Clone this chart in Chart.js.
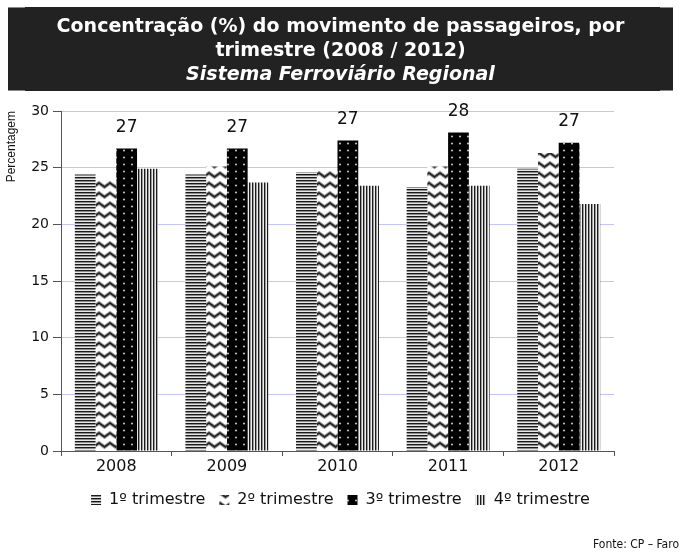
<!DOCTYPE html>
<html>
<head>
<meta charset="utf-8">
<script src="https://cdn.jsdelivr.net/npm/chart.js@4"></script>
<style>
  html, body { margin: 0; padding: 0; background: #fff; }
  #wrap { width: 681px; height: 555px; position: relative; }
</style>
</head>
<body>
<div id="wrap"><canvas id="passChart" width="681" height="555"></canvas></div>
<script>
// Data
const years = ['2008', '2009', '2010', '2011', '2012'];
const trim1 = [24.4, 24.4, 24.6, 23.3, 24.9];
const trim2 = [23.9, 25.1, 24.7, 25.1, 26.3];
const trim3 = [26.7, 26.7, 27.4, 28.1, 27.2];
const trim4 = [24.9, 23.7, 23.4, 23.4, 21.8];
const seriesNames = ['1º trimestre', '2º trimestre', '3º trimestre', '4º trimestre'];
const yTicks = [0, 5, 10, 15, 20, 25, 30];

const sans = '"DejaVu Sans", Verdana, sans-serif';
const arial = '"Liberation Sans", Arial, sans-serif';

// Fill patterns (black & white like the original print)
function makePattern(w, h, draw) {
  const c = document.createElement('canvas');
  c.width = w; c.height = h;
  const g = c.getContext('2d');
  draw(g, w, h);
  return g.createPattern(c, 'repeat');
}

const hStripes = makePattern(1, 3, g => {
  ['#1a1a1a', '#8c8c8c', '#e6e6e6'].forEach((col, i) => { g.fillStyle = col; g.fillRect(0, i, 1, 1); });
});
const vStripes = makePattern(3, 1, g => {
  ['#1a1a1a', '#9a9a9a', '#eeeeee'].forEach((col, i) => { g.fillStyle = col; g.fillRect(i, 0, 1, 1); });
});
const waves = makePattern(11, 10, (g, w, h) => {
  g.fillStyle = '#fff';
  g.fillRect(0, 0, w, h);
  const path = () => {
    g.beginPath();
    g.moveTo(-5.5, 7); g.lineTo(0, 3); g.lineTo(5.5, 7); g.lineTo(11, 3); g.lineTo(16.5, 7);
  };
  g.strokeStyle = '#9a9a9a'; g.lineWidth = 3.6; path(); g.stroke();
  g.strokeStyle = '#222'; g.lineWidth = 1.8; path(); g.stroke();
});
const dots = makePattern(8, 7, g => {
  g.fillStyle = '#000';
  g.fillRect(0, 0, 8, 7);
  g.fillStyle = '#bbb';
  g.beginPath(); g.arc(4, 3.5, 1.1, 0, Math.PI * 2); g.fill();
});

// Dark title box + source note
const decorations = {
  id: 'decorations',
  beforeDraw(chart) {
    const c = chart.ctx;
    c.save();
    c.fillStyle = '#222';
    c.fillRect(8, 7, 665, 84);
    c.fillStyle = '#888';
    c.fillRect(8, 7, 17, 1); c.fillRect(8, 90, 17, 1);
    c.fillRect(660, 7, 13, 1); c.fillRect(660, 90, 13, 1);
    c.restore();
  },
  afterDraw(chart) {
    const c = chart.ctx;
    c.save();
    c.font = '12px "DejaVu Sans Condensed", "DejaVu Sans", sans-serif';
    c.fillStyle = '#111';
    c.textAlign = 'right';
    c.textBaseline = 'middle';
    c.fillText('Fonte: CP – Faro', 679, 545);
    c.restore();
  }
};

// Value labels above the 3rd quarter bars
const topLabels = {
  id: 'topLabels',
  afterDatasetsDraw(chart) {
    const c = chart.ctx;
    const meta = chart.getDatasetMeta(2);
    c.save();
    c.font = '17px ' + sans;
    c.fillStyle = '#111';
    c.textAlign = 'center';
    c.textBaseline = 'middle';
    meta.data.forEach((bar, i) => {
      c.fillText(Math.round(trim3[i]), bar.x, bar.y - 21);
    });
    c.restore();
  }
};

const ctx = document.getElementById('passChart').getContext('2d');
const fills = [hStripes, waves, dots, vStripes];
const values = [trim1, trim2, trim3, trim4];

new Chart(ctx, {
  type: 'bar',
  data: {
    labels: years,
    datasets: values.map((v, i) => ({
      label: seriesNames[i],
      data: v,
      backgroundColor: fills[i],
      borderWidth: 0,
      categoryPercentage: 0.75,
      barPercentage: 1.0
    }))
  },
  options: {
    responsive: false,
    animation: false,
    layout: { padding: { left: 0, right: 0, top: 0, bottom: 37 } },
    plugins: {
      title: {
        display: true,
        text: ['Concentração (%) do movimento de passageiros, por', 'trimestre (2008 / 2012)'],
        color: '#fff',
        font: { family: sans, size: 19, weight: 'bold', lineHeight: 24 / 19 },
        padding: { top: 15, bottom: 0 }
      },
      subtitle: {
        display: true,
        text: 'Sistema Ferroviário Regional',
        color: '#fff',
        font: { family: sans, size: 19, weight: 'bold', style: 'italic', lineHeight: 24 / 19 },
        padding: { top: 0, bottom: 24 }
      },
      legend: {
        position: 'bottom',
        labels: {
          boxWidth: 10,
          boxHeight: 10,
          padding: 14,
          color: '#111',
          font: { family: sans, size: 16 }
        }
      },
      tooltip: { enabled: false }
    },
    scales: {
      x: {
        grid: { offset: true, drawOnChartArea: false, tickLength: 5, tickColor: '#555' },
        border: { color: '#555' },
        ticks: { color: '#111', padding: 3, font: { family: sans, size: 16, lineHeight: 1 } }
      },
      y: {
        min: 0,
        max: 30,
        afterBuildTicks: s => { s.ticks = yTicks.map(v => ({ value: v })); },
        grid: { color: '#c4c4f6', tickColor: '#555', tickLength: 8 },
        border: { color: '#555' },
        ticks: { color: '#111', padding: 4, font: { family: sans, size: 14 } },
        title: {
          display: true,
          text: 'Percentagem',
          align: 'end',
          color: '#111',
          padding: 4,
          font: { family: arial, size: 12 }
        },
        afterFit: s => { s.width = 61; }
      },
      spacer: {
        type: 'linear',
        position: 'right',
        grid: { display: false },
        border: { display: false },
        ticks: { display: false },
        afterFit: s => { s.width = 67; }
      }
    }
  },
  plugins: [decorations, topLabels]
});
</script>
</body>
</html>
